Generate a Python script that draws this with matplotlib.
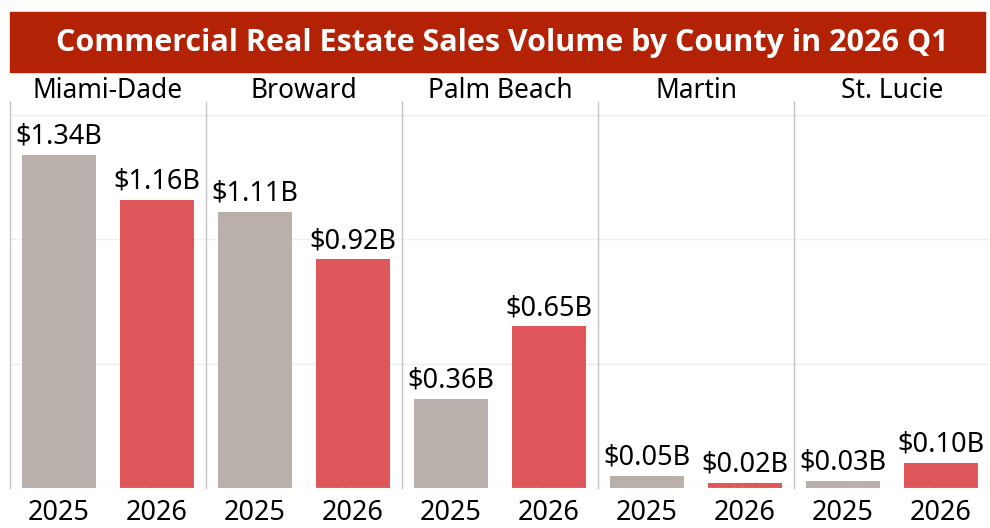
import matplotlib
matplotlib.use("Agg")
import matplotlib.pyplot as plt
from matplotlib.patches import Rectangle

counties = ["Miami-Dade", "Broward", "Palm Beach", "Martin", "St. Lucie"]
years = ["2025", "2026"]
sales_2025 = [1.34, 1.11, 0.36, 0.05, 0.03]   # miles de millones USD
sales_2026 = [1.16, 0.92, 0.65, 0.02, 0.10]
title = "Commercial Real Estate Sales Volume by County in 2026 Q1"

GRAY = "#b9b0ab"
RED = "#e0575b"
BANNER = "#b32205"
plt.rcParams["font.family"] = ["Noto Sans", "DejaVu Sans"]

W, H = 990, 528
fig = plt.figure(figsize=(W / 100, H / 100), dpi=100)

# --- banda del título ---
fig.patches.append(Rectangle((10 / W, 1 - 72 / H), 975 / W, 60 / H,
                             transform=fig.transFigure, color=BANNER, zorder=0))
fig.text(502 / W, 1 - 43 / H, title, color="white", fontsize=22,
         fontweight="bold", ha="center", va="center", family=["Open Sans", "DejaVu Sans"])

left0, pw = 10, 196
bottom, top = 488, 102
ymax = (bottom - top) / 248.5

for i, name in enumerate(counties):
    ax = fig.add_axes([(left0 + pw * i) / W, 1 - bottom / H, pw / W, (bottom - top) / H])
    vals = [sales_2025[i], sales_2026[i]]
    bars = ax.bar([0, 1], vals, width=0.75, color=[GRAY, RED], zorder=3)
    for b, v in zip(bars, vals):
        ax.annotate(f"${v:.2f}B", (b.get_x() + b.get_width() / 2, v),
                    xytext=(0, 3), textcoords="offset points",
                    ha="center", va="bottom", fontsize=19.5)
    ax.set_xlim(-0.5, 1.5)
    ax.set_ylim(0, ymax)
    ax.set_yticks([0.5, 1.0, 1.5])
    ax.grid(axis="y", color="#efefef", lw=1, zorder=0)
    ax.axhline(0, color="#d0d0d0", lw=1, ls=(0, (3, 3)), zorder=4)
    ax.set_xticks([0, 1], years, fontsize=19.5)
    ax.tick_params(axis="x", length=0, pad=8)
    ax.tick_params(axis="y", length=0, labelleft=False)
    for s in ("top", "right", "bottom"):
        ax.spines[s].set_visible(False)
    ax.spines["left"].set_color("#c4c4c4")
    ax.spines["left"].set_linewidth(1)
    ax.text(0.5, 1 + 11 / (bottom - top), name, transform=ax.transAxes,
            ha="center", va="center", fontsize=19)

fig.savefig("out.png", dpi=100)
